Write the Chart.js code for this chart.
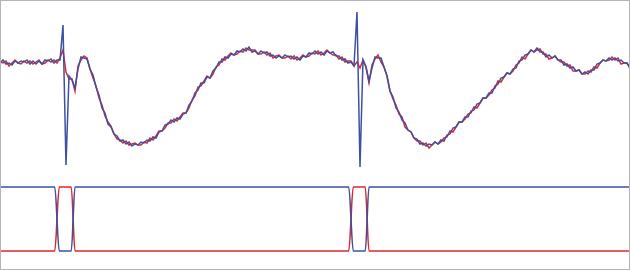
<!DOCTYPE html>
<html>
<head>
<meta charset="utf-8">
<script src="https://cdn.jsdelivr.net/npm/chart.js@4/dist/chart.umd.min.js"></script>
<style>
    html, body { margin: 0; padding: 0; background: #fff; }
    body { width: 630px; height: 271px; position: relative; overflow: hidden; }
    .frame {
        position: absolute; left: 0; top: 0; width: 630px; height: 270px;
        box-sizing: border-box; border: 1px solid #b4b4b4;
    }
    .panel { position: absolute; left: 0; width: 630px; }
    #ecgPanel { top: 0; height: 180px; }
    #gatePanel { top: 180px; height: 90px; }
</style>
</head>
<body>
<div class="panel" id="ecgPanel"><canvas id="ecgChart"></canvas></div>
<div class="panel" id="gatePanel"><canvas id="gateChart"></canvas></div>
<div class="frame"></div>
<script>
// Abtastintervall (ms) der EKG-Kurven
const SAMPLE_MS = 4;

// EKG, Kanal blau (a.u.)
const ecgBlue = [
    117,120,116,117,115,119,117,119,118,120,116,119,116,119,116,120,119,121,117,120,
    120,155,15,104,100,92,111,123,122,121,111,105,93,85,72,67,56,53,46,44,
    39,40,36,38,34,36,35,38,37,40,39,43,42,48,49,55,56,60,58,62,
    61,66,67,75,79,87,90,97,97,103,102,109,112,118,118,123,122,126,125,129,
    128,131,129,133,128,129,126,129,127,128,124,125,122,124,122,125,123,124,121,123,
    120,124,123,127,126,129,126,128,125,129,127,128,124,124,120,121,117,118,114,168,
    13,120,113,99,112,123,122,122,113,104,89,83,72,68,60,57,50,48,42,41,
    36,37,34,36,35,38,36,40,39,45,46,52,53,58,58,63,63,69,70,76,
    77,82,82,87,87,94,96,102,103,107,106,111,112,119,120,125,126,130,128,132,
    128,128,123,125,122,124,120,120,115,116,112,113,109,110,106,108,106,110,110,116,
    117,120,119,122,120,122,119,120,117,117,112
];

// EKG, Kanal rot (a.u.)
const ecgRed = [
    118,117,119,114,117,120,117,116,119,117,119,116,118,120,116,117,120,118,120,117,
    122,130,108,101,101,89,114,120,124,122,111,102,94,82,75,64,58,54,46,41,
    40,37,39,35,36,37,35,35,38,37,42,40,44,49,49,52,57,57,61,59,
    63,67,67,72,80,84,93,94,99,104,102,106,113,115,121,120,124,127,125,126,
    129,128,132,130,130,130,126,126,128,125,127,122,124,125,122,122,124,121,124,120,
    122,125,123,124,127,126,129,125,127,130,127,125,125,121,123,118,119,119,114,118,
    112,120,113,97,115,121,125,118,113,104,89,81,75,66,63,53,50,48,42,39,
    39,35,37,32,35,38,36,38,42,43,49,48,53,58,58,61,66,67,73,72,
    77,82,82,85,90,92,99,98,103,107,106,109,115,117,123,121,126,130,128,130,
    131,126,126,121,122,124,120,118,118,114,115,109,109,110,106,106,109,108,113,112,
    117,120,119,120,123,120,122,116,117,117,112
];

// Gating-Signale: Umschaltzeitpunkte (ms) und Zustände
const gateTimes = [0, 73, 79, 95, 100, 465, 471, 487, 492, 840];
const gateBlue  = [1, 1, 0, 0, 1, 1, 0, 0, 1, 1];
const gateRed   = [0, 0, 1, 1, 0, 0, 1, 1, 0, 0];

const BLUE = '#3d50a2';
const RED = '#e3262e';

const ecgTimes = ecgBlue.map((_, i) => i * SAMPLE_MS);
const toPoints = (xs, ys) => ys.map((y, i) => ({ x: xs[i], y }));

function baseOptions(yMin, yMax) {
    return {
        responsive: true,
        maintainAspectRatio: false,
        animation: false,
        events: [],
        layout: { padding: 0 },
        plugins: { legend: { display: false }, tooltip: { enabled: false } },
        elements: { point: { radius: 0 } },
        scales: {
            x: { type: 'linear', min: 0, max: 840, display: false },
            y: { min: yMin, max: yMax, display: false }
        }
    };
}

// Oberes Panel: EKG
new Chart(document.getElementById('ecgChart'), {
    type: 'line',
    data: {
        datasets: [
            { data: toPoints(ecgTimes, ecgBlue), borderColor: BLUE, borderWidth: 1.5, tension: 0 },
            { data: toPoints(ecgTimes, ecgRed), borderColor: RED, borderWidth: 1.5, tension: 0 }
        ]
    },
    options: baseOptions(0, 180)
});

// Unteres Panel: Gating
new Chart(document.getElementById('gateChart'), {
    type: 'line',
    data: {
        datasets: [
            { data: toPoints(gateTimes, gateBlue), borderColor: BLUE, borderWidth: 1.6, cubicInterpolationMode: 'monotone' },
            { data: toPoints(gateTimes, gateRed), borderColor: RED, borderWidth: 1.6, cubicInterpolationMode: 'monotone' }
        ]
    },
    options: baseOptions(-0.297, 1.109)
});
</script>
</body>
</html>
